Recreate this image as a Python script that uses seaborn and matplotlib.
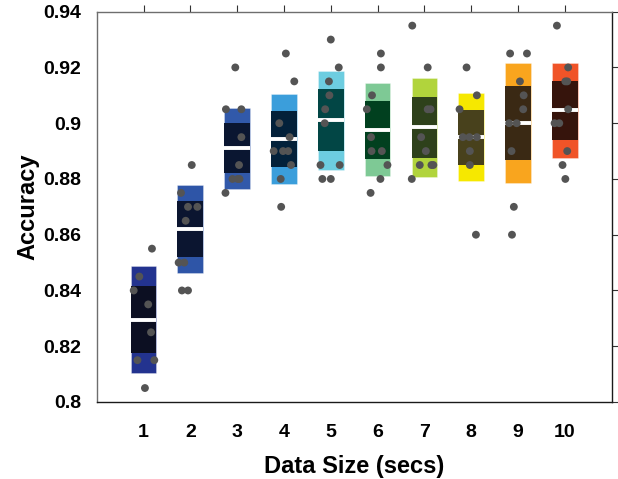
import numpy as np
import pandas as pd
import matplotlib
matplotlib.use("Agg")
import matplotlib.pyplot as plt
import seaborn as sns

# ---------------- data ----------------
groups = [1, 2, 3, 4, 5, 6, 7, 8, 9, 10]
xtick_labels = ["1", "2", "3", "4", "5", "6", "7", "8", "9", "10"]
ytick_values = [0.80, 0.82, 0.84, 0.86, 0.88, 0.90, 0.92, 0.94]
ytick_labels = ["0.8", "0.82", "0.84", "0.86", "0.88", "0.9", "0.92", "0.94"]

means   = [0.8295, 0.8620, 0.8910, 0.8943, 0.9011, 0.8977, 0.8985, 0.8950, 0.9000, 0.9046]
sd_half = [0.0192, 0.0159, 0.0146, 0.0160, 0.0178, 0.0168, 0.0177, 0.0159, 0.0216, 0.0171]
ci_half = [0.0120, 0.0100, 0.0090, 0.0099, 0.0110, 0.0104, 0.0110, 0.0099, 0.0133, 0.0106]

vals_1  = [0.855, 0.845, 0.840, 0.835, 0.825, 0.815, 0.815, 0.805]
jit_1   = [0.18, -0.09, -0.21, 0.10, 0.16, -0.13, 0.23, 0.03]
vals_2  = [0.885, 0.875, 0.870, 0.870, 0.865, 0.850, 0.850, 0.840, 0.840]
jit_2   = [0.03, -0.20, -0.05, 0.15, -0.10, -0.25, -0.13, -0.18, -0.05]
vals_3  = [0.920, 0.905, 0.905, 0.895, 0.885, 0.880, 0.880, 0.880, 0.875]
jit_3   = [-0.04, 0.09, -0.24, 0.09, 0.04, -0.10, 0.01, 0.05, -0.25]
vals_4  = [0.925, 0.915, 0.900, 0.895, 0.890, 0.890, 0.890, 0.885, 0.880, 0.870]
jit_4   = [0.04, 0.22, -0.10, 0.12, -0.22, -0.02, 0.09, 0.15, -0.07, -0.06]
vals_5  = [0.930, 0.920, 0.915, 0.910, 0.905, 0.900, 0.885, 0.885, 0.880, 0.880]
jit_5   = [0.00, 0.17, -0.04, -0.03, -0.12, -0.13, -0.22, 0.19, -0.18, 0.00]
vals_6  = [0.925, 0.920, 0.910, 0.905, 0.895, 0.890, 0.890, 0.885, 0.880, 0.875]
jit_6   = [0.07, 0.07, -0.12, -0.23, -0.14, -0.13, 0.09, 0.21, 0.06, -0.15]
vals_7  = [0.935, 0.920, 0.905, 0.905, 0.895, 0.890, 0.885, 0.885, 0.885, 0.880]
jit_7   = [-0.26, 0.07, 0.07, 0.13, -0.07, 0.03, -0.10, 0.15, 0.19, -0.27]
vals_8  = [0.920, 0.910, 0.905, 0.895, 0.895, 0.895, 0.890, 0.885, 0.860]
jit_8   = [-0.10, 0.12, -0.25, -0.18, -0.04, 0.12, -0.03, -0.03, 0.10]
vals_9  = [0.925, 0.925, 0.915, 0.910, 0.905, 0.900, 0.900, 0.890, 0.870, 0.860]
jit_9   = [-0.17, 0.19, 0.04, 0.12, 0.11, -0.19, -0.03, -0.14, -0.09, -0.13]
vals_10 = [0.935, 0.920, 0.915, 0.915, 0.905, 0.900, 0.900, 0.890, 0.885, 0.880]
jit_10  = [-0.17, 0.07, 0.01, 0.05, 0.07, -0.22, -0.12, 0.05, -0.05, 0.01]

all_vals = [vals_1, vals_2, vals_3, vals_4, vals_5, vals_6, vals_7, vals_8, vals_9, vals_10]
all_jit = [jit_1, jit_2, jit_3, jit_4, jit_5, jit_6, jit_7, jit_8, jit_9, jit_10]

sd_colors = ["#23338f", "#2e55a7", "#3159aa", "#3b9edb", "#6dcde0",
             "#7ec995", "#b1d43c", "#f6e800", "#f9a51e", "#f05428"]
ci_colors = ["#0c0f22", "#0b1530", "#0a1631", "#03213a", "#024645",
             "#01401f", "#2e411b", "#48411c", "#3a2914", "#36140c"]

# ---------------- figure ----------------
sns.set_theme(style="white")
plt.rcParams["font.family"] = ["Liberation Sans", "DejaVu Sans"]
plt.rcParams["font.weight"] = "bold"

fig = plt.figure(figsize=(6.18, 4.79), dpi=100)
ax = fig.add_axes([0.1565, 0.1608, 0.9898 - 0.1565, 0.9756 - 0.1608])

g = np.array(groups, dtype=float)
m = np.array(means)
sd = np.array(sd_half)
ci = np.array(ci_half)
width = 0.55

ax.bar(g, 2 * sd, bottom=m - sd, width=width, color=sd_colors,
       edgecolor=(1, 1, 1, 0.35), linewidth=0.6, zorder=1)
ax.bar(g, 2 * ci, bottom=m - ci, width=width, color=ci_colors,
       edgecolor="none", zorder=2)
ax.hlines(m, g - width / 2, g + width / 2, colors="white", linewidth=2.8, zorder=3)

rows = []
for grp, vs, js in zip(groups, all_vals, all_jit):
    for v, j in zip(vs, js):
        rows.append({"x": grp + j, "y": v})
df = pd.DataFrame(rows)
sns.scatterplot(data=df, x="x", y="y", color="#545454", s=32, edgecolor="none",
                linewidth=0, zorder=5, ax=ax, legend=False)

ax.set_xlim(0, 11)
ax.set_ylim(0.80, 0.94)
ax.set_xticks(groups)
ax.set_xticklabels(xtick_labels, fontsize=14, fontweight="bold")
ax.set_yticks(ytick_values)
ax.set_yticklabels(ytick_labels, fontsize=14, fontweight="bold")

ax.tick_params(axis="both", direction="out", length=5, width=0.8,
               top=True, right=True, labeltop=False, labelright=False,
               color="#333333", labelcolor="black")
ax.tick_params(axis="x", pad=11)
ax.tick_params(axis="y", pad=6)

for side in ["left", "top"]:
    ax.spines[side].set_color("#6e6e6e")
for side in ["right", "bottom"]:
    ax.spines[side].set_color("#1a1a1a")
for s in ax.spines.values():
    s.set_linewidth(1.0)
    s.set_visible(True)

ax.set_xlabel("Data Size (secs)", fontsize=17, fontweight="bold", labelpad=10,
              color="black")
ax.set_ylabel("Accuracy", fontsize=17, fontweight="bold", labelpad=3,
              color="black")
ax.grid(False)

fig.savefig("out.png", dpi=100)
